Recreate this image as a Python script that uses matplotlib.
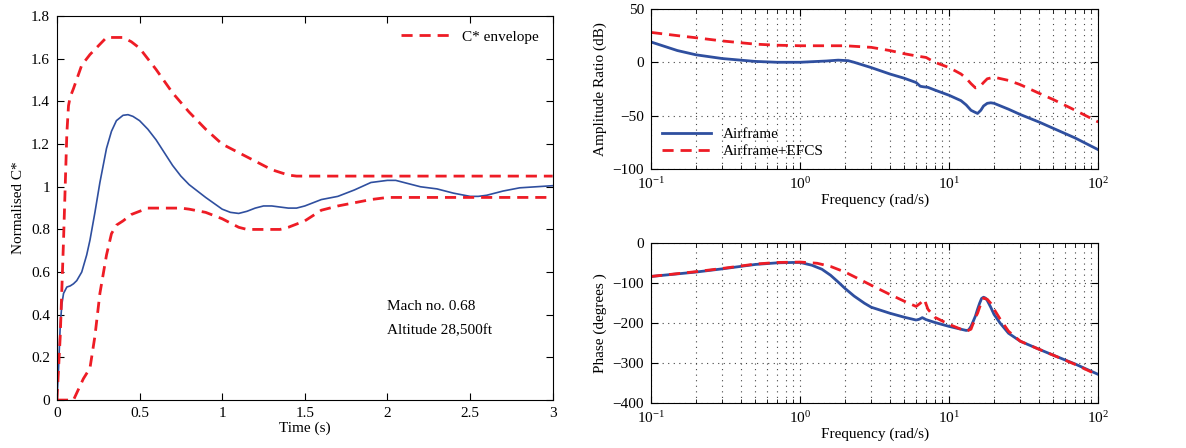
import numpy as np
import matplotlib
matplotlib.use('Agg')
from matplotlib import pyplot as plt
from matplotlib.ticker import LogLocator, NullFormatter

plt.rcParams['font.family'] = ['Liberation Serif', 'DejaVu Serif']
plt.rcParams['font.size'] = 10
plt.rcParams['mathtext.fontset'] = 'stix'

BLUE = '#2f4f9f'
RED = '#ee1c25'

# C* step response
t_resp = [0, 0.01, 0.02, 0.03, 0.04, 0.06, 0.08, 0.1, 0.12, 0.15, 0.18, 0.2, 0.23, 0.26, 0.3, 0.33,
          0.36, 0.4, 0.43, 0.46, 0.5, 0.55, 0.6, 0.65, 0.7, 0.75, 0.8, 0.9, 1.0, 1.05, 1.1, 1.15,
          1.2, 1.25, 1.3, 1.35, 1.4, 1.45, 1.5, 1.6, 1.7, 1.8, 1.9, 2.0, 2.05, 2.1, 2.2, 2.3, 2.4,
          2.5, 2.55, 2.6, 2.7, 2.8, 2.9, 3.0]
c_resp = [0, 0.15, 0.35, 0.45, 0.5, 0.53, 0.535, 0.545, 0.56, 0.6, 0.68, 0.75, 0.88, 1.02, 1.18, 1.26,
          1.31, 1.335, 1.338, 1.33, 1.31, 1.27, 1.22, 1.16, 1.1, 1.05, 1.01, 0.95, 0.895, 0.88, 0.875, 0.885,
          0.9, 0.91, 0.91, 0.905, 0.9, 0.9, 0.91, 0.94, 0.955, 0.985, 1.02, 1.03, 1.03, 1.02, 1.0, 0.99, 0.97,
          0.955, 0.955, 0.96, 0.98, 0.995, 1.0, 1.005]

t_upper = [0, 0.02, 0.04, 0.05, 0.06, 0.07, 0.08, 0.1, 0.15, 0.2, 0.25, 0.3, 0.35, 0.4, 0.45, 0.5,
           0.6, 0.7, 0.8, 0.9, 1.0, 1.1, 1.2, 1.3, 1.4, 1.45, 1.5, 3.0]
c_upper = [0, 0.3, 0.75, 1.0, 1.25, 1.38, 1.42, 1.46, 1.57, 1.62, 1.66, 1.7, 1.7, 1.7, 1.68, 1.65,
           1.55, 1.44, 1.35, 1.27, 1.2, 1.16, 1.12, 1.08, 1.055, 1.05, 1.05, 1.05]

t_lower = [0, 0.1, 0.13, 0.16, 0.2, 0.23, 0.26, 0.3, 0.33, 0.36, 0.4, 0.45, 0.5, 0.55, 0.6, 0.7,
           0.75, 0.8, 0.9, 1.0, 1.05, 1.1, 1.15, 1.2, 1.3, 1.35, 1.4, 1.5, 1.6, 1.7, 1.8, 1.9, 2.0, 3.0]
c_lower = [0, 0, 0.05, 0.1, 0.15, 0.3, 0.5, 0.68, 0.78, 0.82, 0.84, 0.87, 0.885, 0.9, 0.9, 0.9,
           0.9, 0.895, 0.88, 0.85, 0.83, 0.81, 0.8, 0.8, 0.8, 0.8, 0.81, 0.84, 0.89, 0.91, 0.925, 0.94, 0.95, 0.95]

# Bode magnitude (dB)
w_mag_a = [0.1, 0.15, 0.2, 0.3, 0.5, 0.7, 1.0, 1.5, 1.8, 2.1, 2.3, 3, 4, 5, 6, 6.4, 6.7, 7.2, 8, 10,
           12, 13, 14, 14.7, 15.5, 16.3, 17, 18, 19, 20, 25, 30, 40, 50, 70, 100]
m_air = [19, 11, 7, 3.5, 0.8, 0, 0, 1.2, 2, 1.5, 0, -5, -11, -15, -19, -22.5, -23, -23.5, -26, -31,
         -36, -40, -45, -46.5, -48, -45, -41, -38.5, -38, -38.5, -44, -49, -56, -62, -71, -82]

w_mag_e = [0.1, 0.15, 0.2, 0.3, 0.5, 0.7, 1.0, 2.0, 3.0, 4.0, 5.0, 6.0, 7.0, 8.0, 10, 12, 13, 14, 15,
           16, 17, 18, 20, 25, 30, 40, 50, 70, 100]
m_efcs = [28, 25, 23, 20, 17, 16, 15.5, 15.5, 14, 11, 8, 6, 4.5, 0, -5, -11, -15, -20, -24,
          -23, -19, -15.5, -14, -17, -21, -29, -35, -45, -56]

# Bode phase (deg)
w_ph_a = [0.1, 0.2, 0.3, 0.5, 0.7, 0.9, 1.0, 1.2, 1.4, 1.6, 1.8, 2.0, 2.3, 2.7, 3, 4, 5, 6, 6.3, 6.6,
          7, 8, 10, 12, 13, 13.5, 14, 14.5, 15, 15.5, 16, 16.5, 17, 17.5, 18, 19, 20, 22, 25, 30, 40,
          50, 70, 100]
p_air = [-83, -72, -64, -53, -49, -48, -48, -55, -65, -80, -97, -113, -132, -150, -160, -175, -185, -192,
         -190, -186, -191, -198, -208, -215, -218, -217, -208, -195, -182, -165, -150, -138, -135, -137, -143,
         -160, -178, -200, -225, -245, -265, -280, -302, -328]

w_ph_e = [0.1, 0.2, 0.3, 0.5, 0.7, 1.0, 1.3, 1.6, 2.0, 2.5, 3, 4, 5, 6, 6.4, 6.8, 7.2, 8, 10, 12,
          13, 14, 14.5, 15, 15.5, 16, 16.5, 17, 18, 19, 20, 22, 25, 30, 40, 50, 70, 100]
p_efcs = [-83, -71, -63, -52, -48, -47, -50, -58, -72, -90, -105, -128, -145, -158, -150, -140, -165, -185, -203, -215,
          -220, -215, -200, -185, -175, -160, -147, -137, -140, -150, -165, -190, -220, -245, -265, -280, -303, -330]

fig = plt.figure(figsize=(11.86, 4.48), dpi=100)

ax1 = fig.add_axes([0.048, 0.107, 0.418, 0.857])
ax1.plot(t_resp, c_resp, color=BLUE, lw=1.2)
ax1.plot(t_upper, c_upper, '--', color=RED, lw=2, dashes=(4, 2.5), label='C* envelope')
ax1.plot(t_lower, c_lower, '--', color=RED, lw=2, dashes=(4, 2.5))
ax1.set_xlim(0, 3)
ax1.set_ylim(0, 1.8)
ax1.set_xticks([0, 0.5, 1, 1.5, 2, 2.5, 3])
ax1.set_xticklabels(['0', '0.5', '1', '1.5', '2', '2.5', '3'])
ax1.set_yticks(np.arange(0, 1.81, 0.2))
ax1.set_yticklabels(['0', '0.2', '0.4', '0.6', '0.8', '1', '1.2', '1.4', '1.6', '1.8'])
ax1.tick_params(direction='in', top=True, right=True, length=5, labelsize=11, pad=5)
ax1.set_xlabel('Time (s)', fontsize=11, labelpad=1)
ax1.set_ylabel('Normalised C*', fontsize=11, labelpad=4)
ax1.legend(loc='upper right', frameon=False, fontsize=11, handlelength=3.2)
ax1.text(2.0, 0.42, 'Mach no. 0.68', fontsize=11)
ax1.text(2.0, 0.31, 'Altitude 28,500ft', fontsize=11)


def bode_style(ax):
    ax.set_xscale('log')
    ax.set_xlim(0.1, 100)
    ax.xaxis.set_major_locator(LogLocator(base=10, numticks=10))
    ax.xaxis.set_minor_locator(LogLocator(base=10, subs=np.arange(2, 10), numticks=10))
    ax.xaxis.set_minor_formatter(NullFormatter())
    ax.grid(True, which='both', axis='x', ls=(0, (1, 4)), color='#444444', lw=0.8)
    ax.grid(True, which='major', axis='y', ls=(0, (1, 4)), color='#444444', lw=0.8)
    ax.tick_params(which='both', direction='in', top=True, right=True, labelsize=11, pad=5)
    ax.tick_params(which='major', length=5)
    ax.tick_params(which='minor', length=3)
    ax.set_xlabel('Frequency (rad/s)', fontsize=11, labelpad=1)


ax2 = fig.add_axes([0.549, 0.623, 0.377, 0.357])
ax2.plot(w_mag_a, m_air, color=BLUE, lw=2, label='Airframe')
ax2.plot(w_mag_e, m_efcs, '--', color=RED, lw=2, dashes=(4, 2.5), label='Airframe+EFCS')
bode_style(ax2)
ax2.set_ylim(-100, 50)
ax2.set_yticks([-100, -50, 0, 50])
ax2.set_yticklabels(['\u2212100', '\u221250', '0', '50'])
ax2.set_ylabel('Amplitude Ratio (dB)', fontsize=11)
ax2.legend(loc='lower left', frameon=False, fontsize=11, handlelength=3.2,
           borderaxespad=0.3, labelspacing=0.2)

ax3 = fig.add_axes([0.549, 0.1, 0.377, 0.357])
ax3.plot(w_ph_a, p_air, color=BLUE, lw=2)
ax3.plot(w_ph_e, p_efcs, '--', color=RED, lw=2, dashes=(4, 2.5))
bode_style(ax3)
ax3.set_ylim(-400, 0)
ax3.set_yticks([-400, -300, -200, -100, 0])
ax3.set_yticklabels(['\u2212400', '\u2212300', '\u2212200', '\u2212100', '0'])
ax3.set_ylabel('Phase (degrees )', fontsize=11)

fig.savefig('out.png', dpi=100)
